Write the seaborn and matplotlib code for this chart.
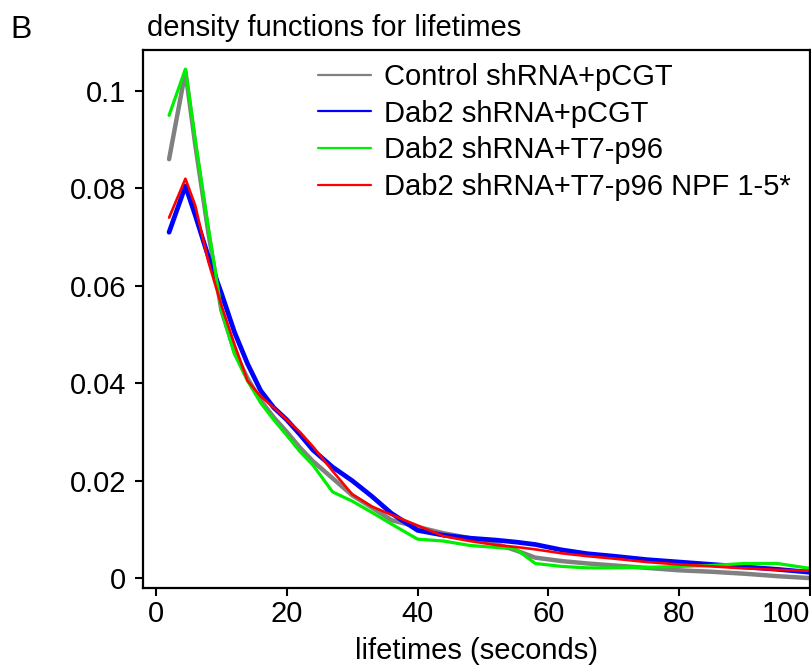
import pandas as pd
import seaborn as sns
import matplotlib.pyplot as plt
from matplotlib.lines import Line2D

lifetimes = [2, 4.5, 6, 8, 10, 12, 14, 16, 18, 20, 22, 24, 27, 30, 33, 36,
             40, 44, 48, 52, 55, 58, 62, 66, 70, 75, 80, 85, 90, 95, 100]

control_pcgt = [0.086, 0.104, 0.089, 0.071, 0.055, 0.0465, 0.041, 0.0365, 0.033, 0.030,
                0.0268, 0.0240, 0.0205, 0.0170, 0.0145, 0.0119, 0.0105, 0.0092, 0.0082,
                0.0070, 0.0057, 0.0042, 0.0035, 0.0030, 0.0026, 0.0021, 0.0016, 0.0013,
                0.0009, 0.0004, 0.0]
dab2_pcgt = [0.071, 0.0805, 0.0745, 0.066, 0.0585, 0.0505, 0.0440, 0.0385, 0.0350, 0.0325,
             0.0295, 0.0263, 0.0228, 0.0200, 0.0168, 0.0133, 0.0098, 0.0088, 0.0082,
             0.0078, 0.0074, 0.0069, 0.0058, 0.0050, 0.0045, 0.0038, 0.0033, 0.0028,
             0.0023, 0.0018, 0.0012]
dab2_p96 = [0.095, 0.1045, 0.090, 0.072, 0.055, 0.046, 0.0405, 0.036, 0.0325, 0.0293,
            0.026, 0.0232, 0.0177, 0.0158, 0.0135, 0.0111, 0.0080, 0.0076, 0.0067,
            0.0063, 0.0060, 0.0030, 0.0024, 0.0021, 0.0021, 0.0022, 0.0024, 0.0026,
            0.0030, 0.0030, 0.0020]
dab2_p96_npf = [0.074, 0.082, 0.0765, 0.065, 0.056, 0.048, 0.0405, 0.0373, 0.0350, 0.0325,
                0.030, 0.027, 0.022, 0.0172, 0.0147, 0.0130, 0.0108, 0.0086, 0.0076,
                0.0068, 0.0064, 0.0059, 0.0051, 0.0045, 0.0040, 0.0033, 0.0028, 0.0024,
                0.0020, 0.0017, 0.0015]

labels = ['Control shRNA+pCGT', 'Dab2 shRNA+pCGT', 'Dab2 shRNA+T7-p96',
          'Dab2 shRNA+T7-p96 NPF 1-5*']
colors = ['#808080', '#0000ff', '#00ee00', '#ff0000']
widths = [3.2, 3.4, 2.3, 1.9]
series = [control_pcgt, dab2_pcgt, dab2_p96, dab2_p96_npf]

df = pd.concat([pd.DataFrame({'lifetime': lifetimes, 'density': vals, 'group': lab})
                for lab, vals in zip(labels, series)])

sns.set_style('ticks')
plt.rcParams['font.family'] = ['Liberation Sans', 'DejaVu Sans']
plt.rcParams['text.color'] = 'black'
plt.rcParams['xtick.color'] = 'black'
plt.rcParams['ytick.color'] = 'black'
plt.rcParams['axes.labelcolor'] = 'black'

fig = plt.figure(figsize=(8.12, 6.68), dpi=100)
ax = fig.add_axes([0.176, 0.12, 0.8215, 0.805])

for lab, col, lw in zip(labels, colors, widths):
    sns.lineplot(data=df[df['group'] == lab], x='lifetime', y='density',
                 color=col, linewidth=lw, ax=ax, legend=False)

ax.set_xlim(-2, 100)
ax.set_ylim(-0.002, 0.1084)
ax.set_xticks([0, 20, 40, 60, 80, 100])
ax.set_yticks([0, 0.02, 0.04, 0.06, 0.08, 0.1])
ax.set_yticklabels(['0', '0.02', '0.04', '0.06', '0.08', '0.1'])
ax.tick_params(axis='both', labelsize=21, width=1.5, length=6, color='black',
               labelcolor='black')
ax.tick_params(axis='y', pad=6)
ax.tick_params(axis='x', pad=3)
ax.get_xticklabels()[-1].set_horizontalalignment('right')
for sp in ax.spines.values():
    sp.set_linewidth(1.6)
    sp.set_color('black')
ax.set_xlabel('lifetimes (seconds)', fontsize=21, labelpad=6)
ax.set_ylabel('')

handles = [Line2D([], [], color=c, lw=1.6) for c in colors]
ax.legend(handles, labels, loc='upper left', bbox_to_anchor=(0.245, 0.998),
          frameon=False, fontsize=21, handlelength=1.8, handletextpad=0.45,
          labelspacing=0.3, borderaxespad=0)

fig.text(147 / 812, 1 - 28 / 668, 'density functions for lifetimes', fontsize=21,
         ha='left', va='center')
fig.text(10 / 812, 1 - 30 / 668, 'B', fontsize=23, ha='left', va='center')

fig.savefig('out.png', dpi=100)
